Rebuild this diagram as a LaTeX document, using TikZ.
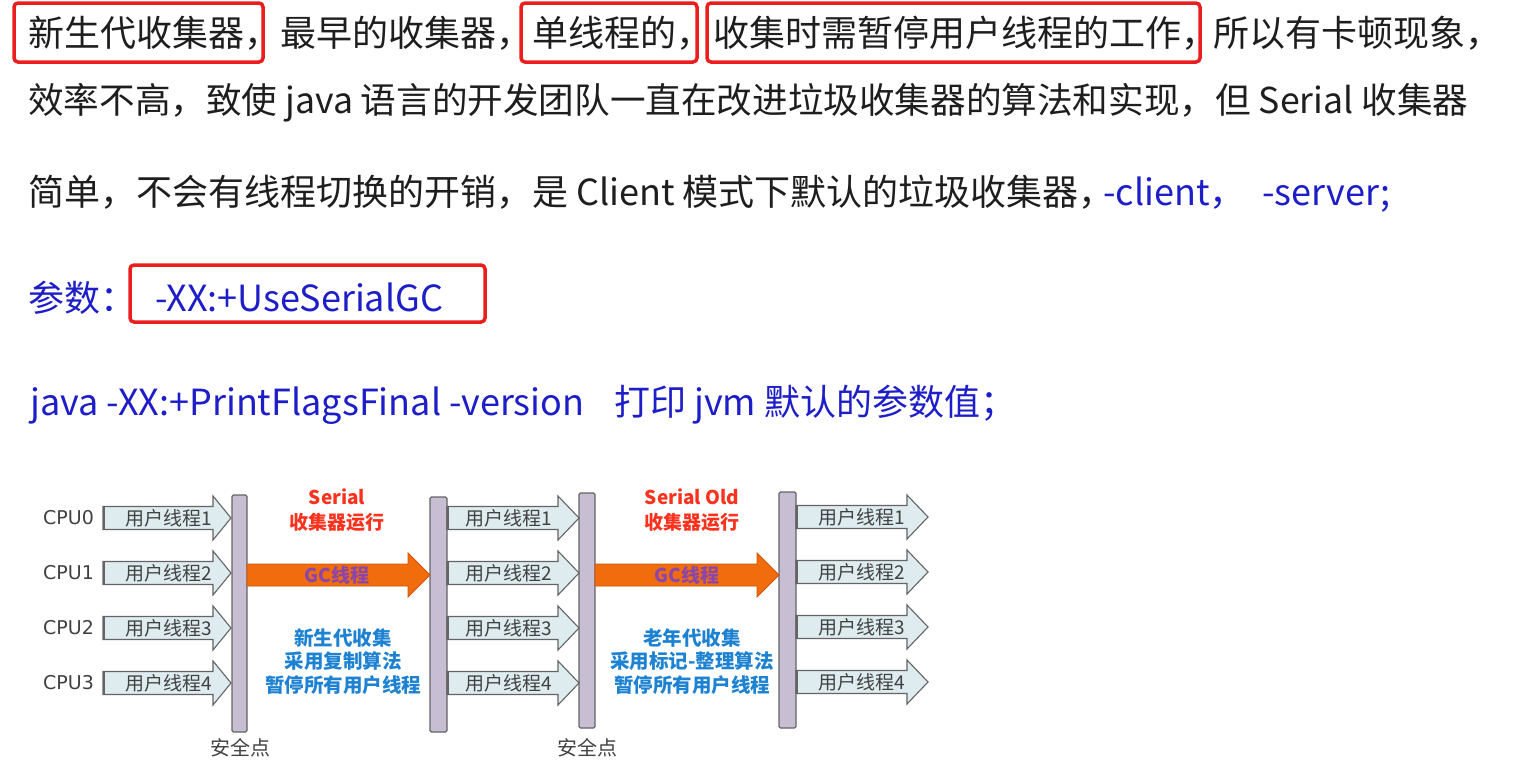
\documentclass[tikz,border=0pt]{standalone}
\usepackage{fontspec}
\setmainfont{Noto Sans CJK SC}
\newfontfamily\cjk{Noto Sans CJK SC}
\newfontfamily\dvs{DejaVu Sans}
\definecolor{thrfill}{RGB}{222,236,240}
\definecolor{thrline}{RGB}{100,100,100}
\definecolor{thrtext}{RGB}{65,65,65}
\definecolor{barfill}{RGB}{200,190,212}
\definecolor{gcorange}{RGB}{240,108,12}
\definecolor{gcedge}{RGB}{205,85,10}
\definecolor{gctext}{RGB}{140,70,170}
\definecolor{serialred}{RGB}{250,50,30}
\definecolor{noteblue}{RGB}{30,130,210}
\definecolor{textblue}{RGB}{30,30,200}
\definecolor{bodytext}{RGB}{30,30,30}
\definecolor{boxred}{RGB}{235,30,30}
\newcommand{\blockarr}[7]{\draw[#1] (#2,#4-#5) -- (#3-#7,#4-#5) -- (#3-#7,#4-#6) -- (#3,#4) -- (#3-#7,#4+#6) -- (#3-#7,#4+#5) -- (#2,#4+#5) -- cycle;}
\newcommand{\thrarr}[4]{\blockarr{thr}{#1}{#2}{#3}{11.5}{22}{#4}\draw[thrline, line width=2.2pt] (#1+1,#3-11) -- (#1+1,#3+11);}
\begin{document}
\begin{tikzpicture}[x=1pt,y=-1pt,
  body/.style={font=\cjk\fontsize{36}{36}\selectfont, text=bodytext, inner sep=0, anchor=base west},
  bodyblue/.style={body, text=textblue},
  redbox/.style={draw=boxred, line width=3.5pt, rounded corners=4pt, inner sep=0},
  thr/.style={fill=thrfill, draw=thrline, line width=1.1pt, line join=miter},
  thrtxt/.style={font=\cjk\fontsize{19}{19}\selectfont, text=thrtext, inner sep=0},
  cpu/.style={font=\dvs\fontsize{19}{19}\selectfont, text=thrtext, inner sep=0},
  barsty/.style={fill=barfill, draw=thrline, line width=1.1pt, rounded corners=1.5pt, inner sep=0},
  gcarr/.style={fill=gcorange, draw=gcedge, line width=0.8pt},
  gctxt/.style={font=\cjk\bfseries\fontsize{19}{19}\selectfont, text=gctext, inner sep=0},
  redtxt/.style={font=\cjk\bfseries\fontsize{19}{19}\selectfont, text=serialred, inner sep=0},
  notetxt/.style={font=\cjk\bfseries\fontsize{19.5}{23.5}\selectfont, text=noteblue, inner sep=0, align=center},
  safetxt/.style={font=\cjk\fontsize{20}{20}\selectfont, text=thrtext, inner sep=0}
]
\useasboundingbox[fill=white] (0,0) rectangle (1521,774);

% ---------- red boxes ----------
\node[redbox, minimum width=249pt, minimum height=59pt] (box1) at (138.5,32.5) {};
\node[redbox, minimum width=176pt, minimum height=59pt] (box2) at (609,32.5) {};
\node[redbox, minimum width=493pt, minimum height=59pt] (box3) at (953.5,32.5) {};
\node[redbox, minimum width=355pt, minimum height=57pt] (box4) at (307.5,293.5) {};

% ---------- line 1 ----------
\node[body] (l1a) at (28,46) {新生代收集器，};
\node[body] (l1b) at (280,46) {最早的收集器，};
\node[body] (l1c) at (532,46) {单线程的，};
\node[body] (l1d) at (713,46) {收集时需暂停用户线程的工作，};
\node[body] (l1e) at (1213,46) {所以有卡顿现象，};

% ---------- line 2 ----------
\node[body, font=\cjk\fontsize{35.6}{36}\selectfont] (l2) at (28,113) {效率不高，致使 java 语言的开发团队一直在改进垃圾收集器的算法和实现，但 Serial 收集器};

% ---------- line 3 ----------
\node[body] (l3a) at (28,205) {简单，不会有线程切换的开销，是 Client 模式下默认的垃圾收集器，};
\node[bodyblue] (l3b) at (1103,205) {-client，};
\node[bodyblue] (l3c) at (1262,205) {-server;};

% ---------- line 4 ----------
\node[bodyblue] (l4a) at (28,311) {参数：};
\node[bodyblue] (l4b) at (155,311) {-XX:+UseSerialGC};

% ---------- line 5 ----------
\node[bodyblue] (l5a) at (30,415) {java -XX:+PrintFlagsFinal -version};
\node[bodyblue] (l5b) at (614,415) {打印 jvm 默认的参数值；};

% ---------- safe point bars ----------
\node[barsty, minimum width=15pt, minimum height=237pt] (bar1) at (239.5,613.5) {};
\node[barsty, minimum width=17pt, minimum height=235pt] (bar2) at (438.5,614.5) {};
\node[barsty, minimum width=16pt, minimum height=235pt] (bar3) at (587,610.5) {};
\node[barsty, minimum width=17pt, minimum height=236pt] (bar4) at (787.5,610) {};

% ---------- CPU labels ----------
\node[cpu] (cpu0) at (68.5,518) {CPU0};
\node[cpu] (cpu1) at (68.5,573) {CPU1};
\node[cpu] (cpu2) at (68.5,628) {CPU2};
\node[cpu] (cpu3) at (68.5,683) {CPU3};

% ---------- thread arrows, set 1 ----------
\foreach \y/\n in {518/1,573/2,628/3,683/4}{
  \thrarr{103}{231}{\y}{18}
  \node[thrtxt] (ta\n) at (169,\y) {用户线程\n};
}
% ---------- thread arrows, set 2 ----------
\foreach \y/\n in {518/1,573/2,628/3,683/4}{
  \thrarr{447}{579}{\y}{21}
  \node[thrtxt] (tb\n) at (509,\y) {用户线程\n};
}
% ---------- thread arrows, set 3 ----------
\foreach \y/\n in {517/1,572/2,627/3,682/4}{
  \thrarr{796}{928}{\y}{21}
  \node[thrtxt] (tc\n) at (862,\y) {用户线程\n};
}

% ---------- GC arrows ----------
\blockarr{gcarr}{247}{430}{575}{11}{22}{22}
\node[gctxt] (gc1) at (337,575) {GC线程};
\blockarr{gcarr}{595}{779}{575}{11}{22}{22}
\node[gctxt] (gc2) at (687,575) {GC线程};

% ---------- titles ----------
\node[redtxt] (s1a) at (337,497) {Serial};
\node[redtxt] (s1b) at (337,522) {收集器运行};
\node[redtxt] (s2a) at (692,497) {Serial Old};
\node[redtxt] (s2b) at (692,522) {收集器运行};

% ---------- notes ----------
\node[notetxt] (n1) at (343,661.5) {新生代收集\\采用复制算法\\暂停所有用户线程};
\node[notetxt] (n2) at (692,661.5) {老年代收集\\采用标记-整理算法\\暂停所有用户线程};

% ---------- safe point labels ----------
\node[safetxt] (sp1) at (240,748) {安全点};
\node[safetxt] (sp2) at (587,748) {安全点};
\end{tikzpicture}
\end{document}
